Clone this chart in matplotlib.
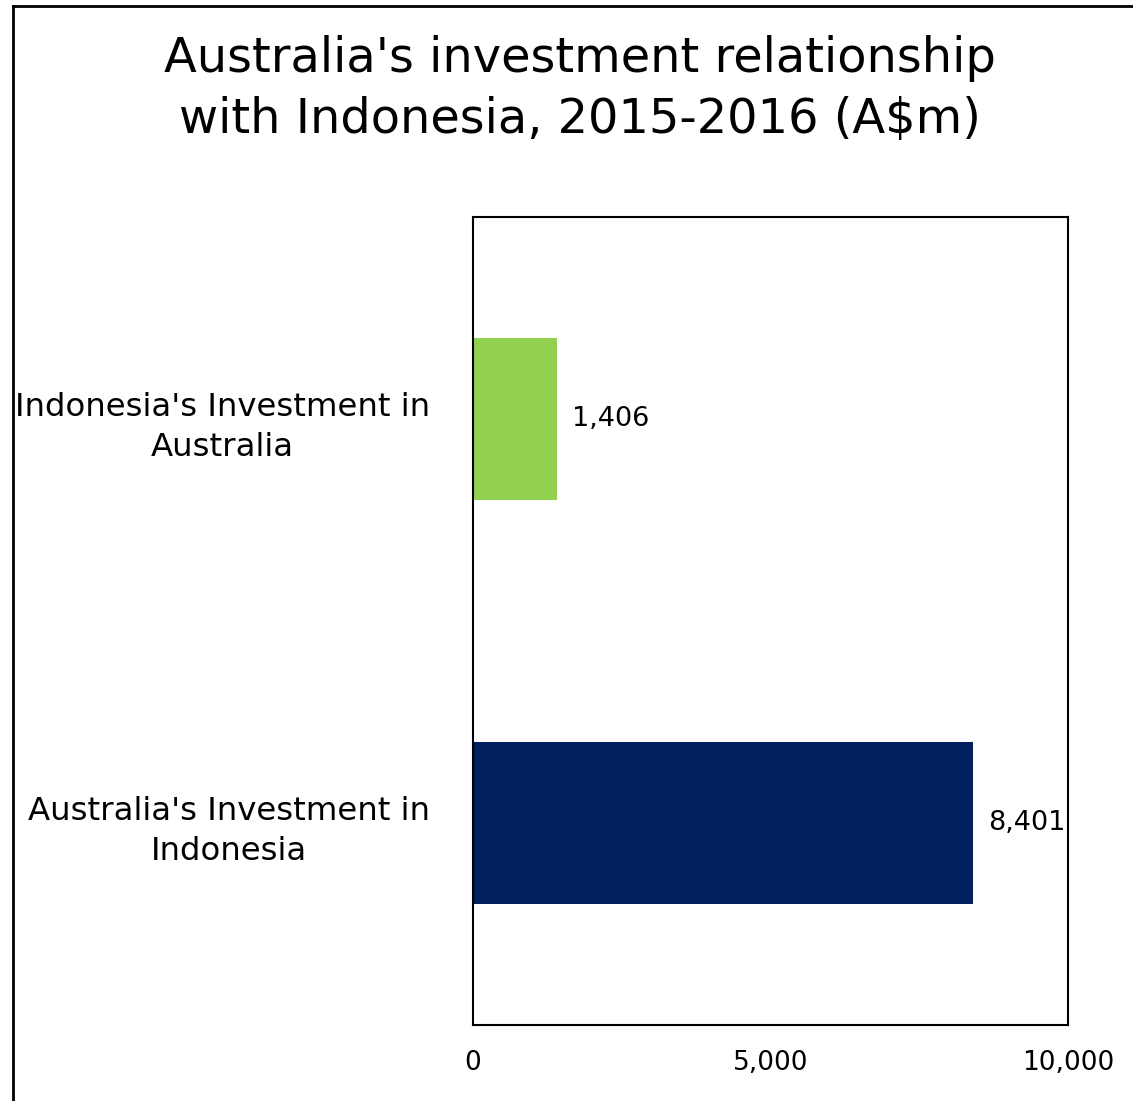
import matplotlib
matplotlib.use("Agg")
import matplotlib.pyplot as plt
from matplotlib.lines import Line2D

categories = ["Australia's Investment in\nIndonesia", "Indonesia's Investment in\nAustralia"]
values = [8401, 1406]
colors = ["#002060", "#92D050"]
xticks = [0, 5000, 10000]
title = "Australia's investment relationship\nwith Indonesia, 2015-2016 (A$m)"

plt.rcParams['font.family'] = ['DejaVu Sans']

W, H = 1133, 1101
fig = plt.figure(figsize=(W/100, H/100), dpi=100)
ax = fig.add_axes([473/W, 1 - 1025/H, (1068-473)/W, (1025-217)/H])

pos = list(range(len(categories)))
ax.barh(pos, values, height=0.40, color=colors)
ax.set_ylim(-0.5, 1.5)
ax.set_xlim(0, 10000)
ax.set_xticks(xticks)
ax.set_xticklabels([f"{v:,}" for v in xticks], fontsize=19)
ax.set_yticks(pos)
ax.set_yticklabels(categories, fontsize=23.3, multialignment='center', linespacing=1.38)
ax.tick_params(axis='both', length=0)
ax.tick_params(axis='x', pad=18)
ax.tick_params(axis='y', pad=31)
for s in ax.spines.values():
    s.set_linewidth(1.5)
    s.set_color('black')

for p, v in zip(pos, values):
    ax.text(v + 250, p, f"{v:,}", va='center', ha='left', fontsize=19.5)

fig.text(580/W, 1 - 89/H, title, ha='center', va='center', fontsize=34.5, linespacing=1.36)

fig.add_artist(Line2D([13/W, 13/W], [0, 1 - 6/H], transform=fig.transFigure, color='black', lw=2))
fig.add_artist(Line2D([13/W, 1], [1 - 6/H, 1 - 6/H], transform=fig.transFigure, color='black', lw=2))

fig.savefig("out.png", dpi=100)
